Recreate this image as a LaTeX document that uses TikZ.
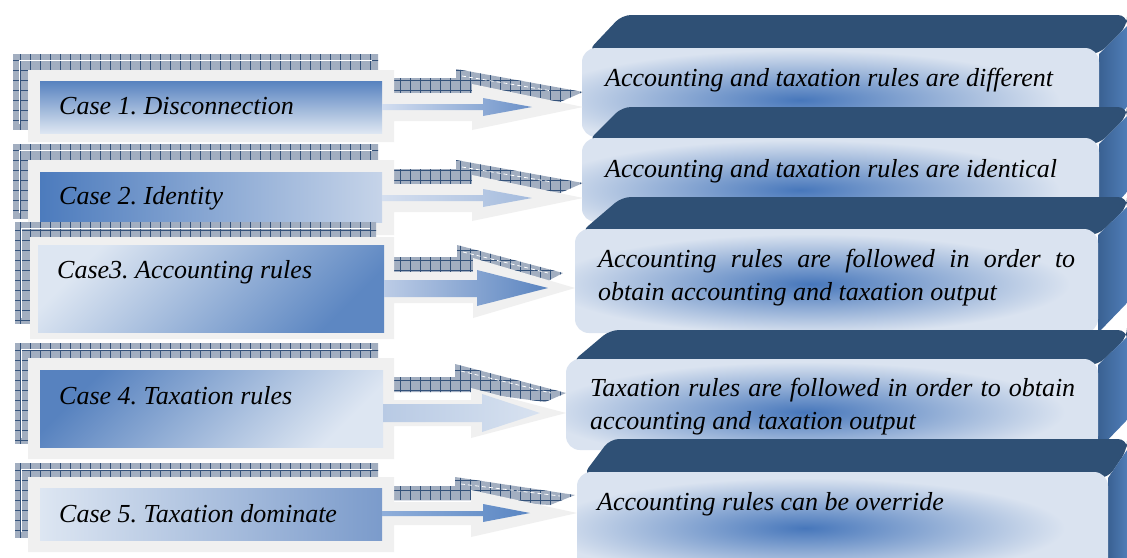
\documentclass[tikz,border=0pt]{standalone}
\usepackage{fontspec}
\setmainfont{Liberation Serif}
\definecolor{hatchbg}{HTML}{A2AEC0}
\definecolor{hatchln}{HTML}{34527A}
\definecolor{framegray}{HTML}{F0F0F0}
\definecolor{navy}{HTML}{2F5075}
\definecolor{sidea}{HTML}{3A6192}
\definecolor{sideb}{HTML}{4F7DB7}
\definecolor{lightbox}{HTML}{DAE3F0}
\definecolor{blob}{HTML}{4777BB}
\definecolor{pale}{HTML}{DDE6F2}
\definecolor{midblue}{HTML}{5782BF}
\definecolor{rtwoblue}{HTML}{4C7BBD}
\definecolor{rtwolight}{HTML}{C6D4E9}
\definecolor{rthreeblue}{HTML}{5D87C2}
\definecolor{rfiveblue}{HTML}{7B9BCB}
\definecolor{aonel}{HTML}{D3DEF0}
\definecolor{aoner}{HTML}{6A90C8}
\definecolor{atwol}{HTML}{D5DFEF}
\definecolor{atwor}{HTML}{A4BBDD}
\definecolor{athreel}{HTML}{BCCCE6}
\definecolor{athreer}{HTML}{5A84C0}
\definecolor{afourl}{HTML}{B8CAE4}
\definecolor{afourr}{HTML}{D8E2F0}
\definecolor{afivel}{HTML}{8FAEDA}
\definecolor{afiver}{HTML}{5A86C3}
\tikzset{
  txt/.style={font=\fontsize{26}{33}\selectfont\itshape\frenchspacing, inner sep=0pt, text=black},
  whiteline/.style={white, line width=0.8pt},
  whitedash/.style={white, line width=0.8pt, dash pattern=on 4pt off 3pt},
}
\newcommand{\hatchshape}[1]{%
  \begin{scope}
    \clip #1;
    \fill[hatchbg] (0,0) rectangle (1127,557);
    \draw[hatchln, line width=0.8pt, step=10pt] (0,0) grid (1127,557);
  \end{scope}}
\newcommand{\rbox}[8]{%
  \fill[navy, rounded corners=9pt] ({#1+6},{#2+3}) -- (#6,#5) -- (1127,#5) -- (1127,{#2-22}) -- (#3,{#2+6}) -- cycle;
  \shade[left color=sidea, right color=sideb] (#3,{#2+6}) -- (1127,{#2-22}) -- (1127,{#4-30}) -- (#3,#4) -- cycle;
  \fill[lightbox, rounded corners=14pt] (#1,#2) rectangle (#3,#4);
  \begin{scope}
    \clip[rounded corners=14pt] (#1,#2) rectangle (#3,#4);
    \shade[inner color=blob, outer color=lightbox] (#7,#8) ellipse [x radius=260pt, y radius=50pt];
  \end{scope}}
\begin{document}
\begin{tikzpicture}[x=1pt,y=-1pt]
\useasboundingbox (0,0) rectangle (1127,557);
\fill[white] (0,0) rectangle (1127,557);

% ---------- right boxes ----------
\rbox{582}{48}{1099}{137}{15}{622}{800}{100}
\rbox{582}{138}{1099}{222}{107}{622}{800}{190}
\rbox{575}{229}{1098}{333}{197}{622}{810}{284}
\rbox{566}{359}{1098}{450}{330}{610}{805}{412}
\rbox{577}{472}{1108}{590}{439}{610}{805}{528}

\node[txt, anchor=base west] (r1) at (605,86) {Accounting and taxation rules are different};
\node[txt, anchor=base west] (r2) at (605,177) {Accounting and taxation rules are identical};
\node[txt, anchor=base west] (r3) at (598,267) {\makebox[477pt][s]{Accounting rules are followed in order to}};
\node[txt, anchor=base west] (r3b) at (598,300) {obtain accounting and taxation output};
\node[txt, anchor=base west] (r4) at (590,396) {\makebox[485pt][s]{Taxation rules are followed in order to obtain}};
\node[txt, anchor=base west] (r4b) at (590,429) {accounting and taxation output};
\node[txt, anchor=base west] (r5) at (597,510) {Accounting rules can be override};

% ---------- row 1 ----------
\hatchshape{(13,54) rectangle (378,129)}
\draw[whiteline] (19,124) -- (19,60) -- (372,60);
\hatchshape{(394,78) -- (456,78) -- (456,69) -- (583,92) -- (560,102) -- (472,93) -- (394,93) -- cycle}
\draw[whitedash] (462,76) -- (552,91);
\fill[framegray] (28,70) -- (394,70) -- (394,93) -- (472,93) -- (472,84) -- (583,107) -- (472,130) -- (472,121) -- (394,121) -- (394,142) -- (28,142) -- cycle;
\shade[top color=midblue, bottom color=pale] (40,81) rectangle (382,133);
\shade[left color=aonel, right color=aoner] (382,104) -- (483,104) -- (483,98) -- (532,107) -- (483,116) -- (483,110) -- (382,110) -- cycle;
\node[txt, anchor=base west] (c1) at (59,114) {Case 1. Disconnection};

% ---------- row 2 ----------
\hatchshape{(13,144) rectangle (378,218)}
\draw[whiteline] (19,213) -- (19,150) -- (372,150);
\hatchshape{(394,169) -- (456,169) -- (456,160) -- (583,183) -- (560,193) -- (472,184) -- (394,184) -- cycle}
\draw[whitedash] (462,167) -- (552,182);
\fill[framegray] (28,160) -- (394,160) -- (394,184) -- (472,184) -- (472,175) -- (583,198) -- (472,221) -- (472,212) -- (394,212) -- (394,235) -- (28,235) -- cycle;
\shade[left color=rtwoblue, right color=rtwolight] (40,172) rectangle (382,222);
\shade[left color=atwol, right color=atwor] (382,195) -- (483,195) -- (483,189) -- (532,198) -- (483,207) -- (483,201) -- (382,201) -- cycle;
\node[txt, anchor=base west] (c2) at (59,204) {Case 2. Identity};

% ---------- row 3 ----------
\hatchshape{(15,222) rectangle (376,323)}
\draw[whiteline] (21,318) -- (21,228) -- (370,228);
\hatchshape{(392,257) -- (457,257) -- (457,245) -- (563,273) -- (540,285) -- (473,273) -- (392,273) -- cycle}
\draw[whitedash] (463,252) -- (548,273);
\fill[framegray] (30,237) -- (394,237) -- (394,272) -- (473,272) -- (473,258) -- (575,288) -- (473,318) -- (473,303) -- (394,303) -- (394,339) -- (30,339) -- cycle;
\shade[top color=pale, bottom color=rthreeblue, shading angle=45] (38,245) rectangle (384,332);
\shade[left color=athreel, right color=athreer] (384,280) -- (477,280) -- (477,270) -- (548,288) -- (477,306) -- (477,297) -- (384,297) -- cycle;
\node[txt, anchor=base west] (c3) at (57,278) {Case3. Accounting rules};

% ---------- row 4 ----------
\hatchshape{(15,343) rectangle (378,443)}
\draw[whiteline] (21,438) -- (21,349) -- (372,349);
\hatchshape{(394,377) -- (455,377) -- (455,364) -- (566,393) -- (545,402) -- (471,392) -- (394,392) -- cycle}
\draw[whitedash] (461,371) -- (551,393);
\fill[framegray] (28,358) -- (394,358) -- (394,400) -- (471,400) -- (471,388) -- (566,413) -- (471,438) -- (471,426) -- (394,426) -- (394,459) -- (28,459) -- cycle;
\shade[top color=midblue, bottom color=pale, shading angle=45] (40,370) rectangle (383,447);
\shade[left color=afourl, right color=afourr] (383,404) -- (482,404) -- (482,394) -- (540,413) -- (482,432) -- (482,422) -- (383,422) -- cycle;
\node[txt, anchor=base west] (c4) at (59,404) {Case 4. Taxation rules};

% ---------- row 5 ----------
\hatchshape{(15,463) rectangle (378,537)}
\draw[whiteline] (21,532) -- (21,469) -- (372,469);
\hatchshape{(394,486) -- (455,486) -- (455,477) -- (575,495) -- (550,505) -- (471,500) -- (394,500) -- cycle}
\draw[whitedash] (461,484) -- (560,496);
\fill[framegray] (28,477) -- (394,477) -- (394,502) -- (471,502) -- (471,490) -- (577,513) -- (471,537) -- (471,525) -- (394,525) -- (394,552) -- (28,552) -- cycle;
\shade[left color=pale, right color=rfiveblue] (40,488) rectangle (382,540);
\shade[left color=afivel, right color=afiver] (382,511) -- (483,511) -- (483,504) -- (530,513) -- (483,522) -- (483,516) -- (382,516) -- cycle;
\node[txt, anchor=base west] (c5) at (59,522) {Case 5. Taxation dominate};
\end{tikzpicture}
\end{document}
